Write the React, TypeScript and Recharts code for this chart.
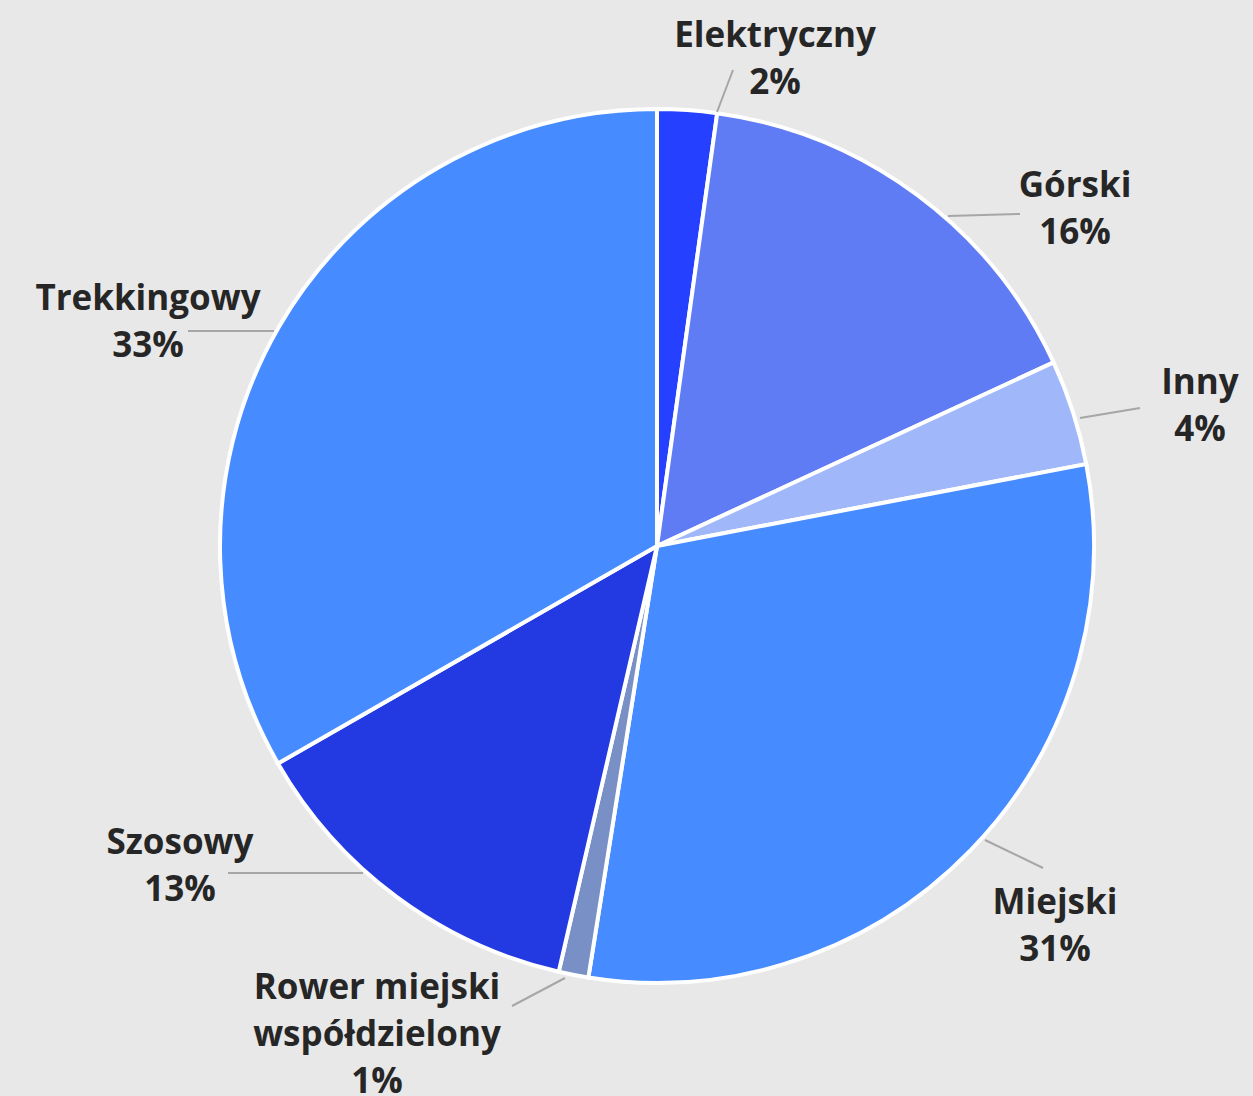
import React from 'react';
import { PieChart, Pie, Cell } from 'recharts';

const categories = ['Elektryczny', 'Górski', 'Inny', 'Miejski', 'Rower miejski współdzielony', 'Szosowy', 'Trekkingowy'];
const shares = [2.2, 15.9, 3.9, 30.51, 1.1, 13.1, 33.29];
const labelLines = [
  ['Elektryczny'],
  ['Górski'],
  ['Inny'],
  ['Miejski'],
  ['Rower miejski', 'współdzielony'],
  ['Szosowy'],
  ['Trekkingowy'],
];

const colors = ['#2541FF', '#5F7CF4', '#A0B8FA', '#468BFF', '#7890C6', '#2339E2', '#468BFF'];

const CX = 657;
const CY = 546;
const R = 437;

// leader line start/end and text anchor, relative to the pie centre
const labelLayout = [
  { sx: 60, sy: -434, ex: 76, ey: -476, tx: 118, ty: -513 },
  { sx: 291, sy: -330, ex: 363, ey: -332, tx: 418, ty: -363 },
  { sx: 423, sy: -128, ex: 483, ey: -138, tx: 543, ty: -166 },
  { sx: 328, sy: 294, ex: 386, ey: 322, tx: 398, ty: 354 },
  { sx: -92, sy: 432, ex: -145, ey: 460, tx: -280, ty: 439 },
  { sx: -294, sy: 327, ex: -429, ey: 327, tx: -477, ty: 294 },
  { sx: -383, sy: -215, ex: -469, ey: -215, tx: -509, ty: -250 },
];

const data = categories.map((name, i) => ({ name, value: shares[i] }));

const renderLabel = (props: any) => {
  const { index, percent } = props;
  const l = labelLayout[index];
  const lines = [...labelLines[index], `${Math.round(percent * 100)}%`];
  return (
    <g key={`lbl-${index}`}>
      <line x1={CX + l.sx} y1={CY + l.sy} x2={CX + l.ex} y2={CY + l.ey} stroke="#A6A6A6" strokeWidth={2} />
      <text
        x={CX + l.tx}
        y={CY + l.ty}
        textAnchor="middle"
        fill="#262626"
        style={{ fontFamily: '"Open Sans", sans-serif', fontWeight: 700, fontSize: 35 }}
      >
        {lines.map((t, j) => (
          <tspan key={j} x={CX + l.tx} y={CY + l.ty + j * 47} dominantBaseline="central">
            {t}
          </tspan>
        ))}
      </text>
    </g>
  );
};

const App: React.FC = () => {
  return (
    <div style={{ position: 'absolute', left: 0, top: 0, width: 1253, height: 1096, background: '#E8E8E8' }}>
      <PieChart width={1253} height={1096} margin={{ top: 0, right: 0, bottom: 0, left: 0 }}>
        <Pie
          data={data}
          dataKey="value"
          nameKey="name"
          cx={CX}
          cy={CY}
          outerRadius={R}
          startAngle={90}
          endAngle={-270}
          stroke="#FFFFFF"
          strokeWidth={4}
          label={renderLabel}
          labelLine={false}
          isAnimationActive={false}
        >
          {data.map((d, i) => (
            <Cell key={d.name} fill={colors[i]} />
          ))}
        </Pie>
      </PieChart>
    </div>
  );
};

export default App;
